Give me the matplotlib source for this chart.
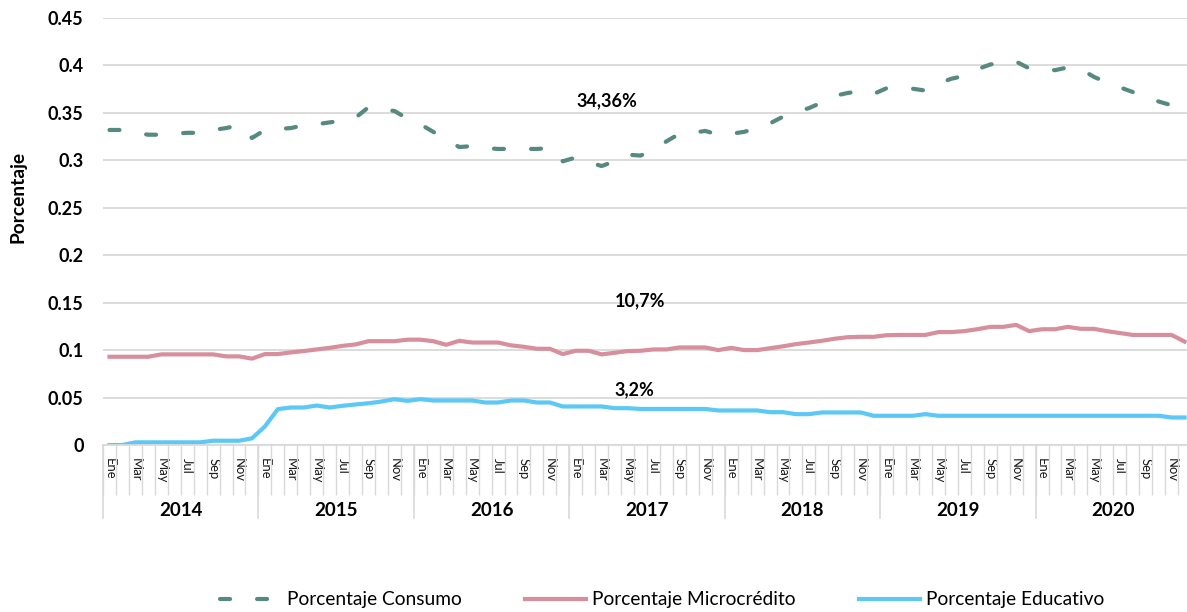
import numpy as np
import matplotlib.pyplot as plt

plt.rcParams['font.family'] = ['Lato', 'DejaVu Sans']

# mensual, Ene 2014 - Dic 2020
years = ["2014", "2015", "2016", "2017", "2018", "2019", "2020"]
months = ["Ene", "Feb", "Mar", "Abr", "May", "Jun", "Jul", "Ago", "Sep", "Oct", "Nov", "Dic"]

consumo = [
    0.332, 0.332, 0.329, 0.327, 0.327, 0.328, 0.329, 0.329, 0.332, 0.334, 0.337, 0.3235,
    0.332, 0.333, 0.334, 0.337, 0.338, 0.340, 0.342, 0.345, 0.356, 0.354, 0.352, 0.344,
    0.338, 0.330, 0.322, 0.314, 0.315, 0.313, 0.312, 0.312, 0.312, 0.312, 0.313, 0.299,
    0.303, 0.298, 0.294, 0.299, 0.306, 0.305, 0.311, 0.320, 0.328, 0.329, 0.331, 0.327,
    0.328, 0.330, 0.334, 0.339, 0.346, 0.351, 0.355, 0.361, 0.368, 0.371, 0.373, 0.370,
    0.376, 0.376, 0.3755, 0.3735, 0.381, 0.386, 0.389, 0.396, 0.401, 0.403, 0.404, 0.397,
    0.396, 0.395, 0.398, 0.396, 0.388, 0.382, 0.377, 0.372, 0.367, 0.362, 0.358, 0.3436,
]
microcredito = [
    0.093, 0.093, 0.093, 0.093, 0.0955, 0.0955, 0.0955, 0.0955, 0.0955, 0.0934, 0.0934, 0.091,
    0.0958, 0.0958, 0.0976, 0.099, 0.1007, 0.1024, 0.1045, 0.106, 0.1094, 0.1094, 0.1094, 0.111,
    0.111, 0.1094, 0.1056, 0.1098, 0.108, 0.108, 0.108, 0.105, 0.1035, 0.1014, 0.1014, 0.0958,
    0.0993, 0.0993, 0.0955, 0.0972, 0.099, 0.0993, 0.1007, 0.1007, 0.1028, 0.1028, 0.1028, 0.100,
    0.1024, 0.100, 0.100, 0.102, 0.104, 0.1063, 0.108, 0.1098, 0.112, 0.1136, 0.114, 0.114,
    0.1157, 0.116, 0.116, 0.116, 0.119, 0.119, 0.120, 0.122, 0.1245, 0.1245, 0.1266, 0.120,
    0.122, 0.122, 0.1245, 0.1224, 0.1224, 0.120, 0.118, 0.116, 0.116, 0.116, 0.116, 0.109,
]
educativo = [
    0.0, 0.0, 0.0028, 0.0028, 0.0028, 0.0028, 0.0028, 0.0028, 0.0045, 0.0045, 0.0045, 0.007,
    0.0196, 0.0378, 0.0395, 0.0395, 0.0416, 0.0395, 0.0413, 0.0427, 0.044, 0.0458, 0.0483, 0.0465,
    0.0483, 0.0469, 0.0469, 0.0469, 0.0469, 0.0448, 0.0448, 0.0469, 0.0469, 0.0448, 0.0448, 0.0406,
    0.0406, 0.0406, 0.0406, 0.0388, 0.0388, 0.038, 0.038, 0.038, 0.038, 0.038, 0.038, 0.0364,
    0.0364, 0.0364, 0.0364, 0.0346, 0.0346, 0.0325, 0.0325, 0.0343, 0.0343, 0.0343, 0.0343, 0.0308,
    0.0308, 0.0308, 0.0308, 0.0325, 0.0308, 0.0308, 0.0308, 0.0308, 0.0308, 0.0308, 0.0308, 0.0308,
    0.0308, 0.0308, 0.0308, 0.0308, 0.0308, 0.0308, 0.0308, 0.0308, 0.0308, 0.0308, 0.029, 0.029,
]

# etiquetas de texto sobre el grafico: (texto, mes, valor)
anotaciones = [("34,36%", 38.4, 0.3625), ("10,7%", 41.0, 0.152), ("3,2%", 40.5, 0.058)]

C_CONS = "#568a80"
C_MICRO = "#d88f9d"
C_EDU = "#5bc8f5"
GRID = "#d9d9d9"

fig = plt.figure(figsize=(11.87, 6.12), dpi=100)
ax = fig.add_axes([103 / 1187, 167 / 612, 1088 / 1187, 427 / 612])

x = np.arange(len(consumo))
ax.plot(x, consumo, color=C_CONS, lw=3, ls=(0, (2.4, 6.5)), dash_capstyle="round",
        label="Porcentaje Consumo")
ax.plot(x, microcredito, color=C_MICRO, lw=3, solid_joinstyle="round", label="Porcentaje Microcrédito")
ax.plot(x, educativo, color=C_EDU, lw=3, solid_joinstyle="round", label="Porcentaje Educativo")

for txt, xm, yv in anotaciones:
    ax.text(xm, yv, txt, ha="center", va="center", fontsize=13, fontweight="bold")

ax.set_xlim(-0.5, len(x) - 0.5)
ax.set_ylim(0, 0.45)
yt = np.round(np.arange(0, 0.451, 0.05), 2)
ax.set_yticks(yt)
ax.set_yticklabels([f"{v:g}" for v in yt], fontsize=13, fontweight="bold")
ax.tick_params(axis="y", length=0, pad=14)
ax.yaxis.grid(True, color=GRID, lw=1.3)
ax.set_axisbelow(True)
for s in ["left", "right", "top"]:
    ax.spines[s].set_visible(False)
ax.spines["bottom"].set_color(GRID)
ax.spines["bottom"].set_linewidth(1.3)

ax.set_ylabel("Porcentaje", fontsize=13.8, fontweight="bold")
ax.yaxis.set_label_coords(-76 / 1088, 0.581)

# meses (uno de cada dos) y divisiones
month_labels = [months[i % 12] for i in range(0, len(x), 2)]
ax.set_xticks(range(0, len(x), 2))
ax.set_xticklabels(month_labels, rotation=-90, fontsize=9.4, va="top", ha="center", color="#1a1a1a")
ax.tick_params(axis="x", which="major", length=0, pad=9)

trans = ax.get_xaxis_transform()
ax.vlines(np.arange(-0.5, len(x), 1), -50 / 427, 0, transform=trans, clip_on=False,
          color=GRID, lw=1, zorder=1)
for k, yr in enumerate(years):
    ax.plot([12 * k - 0.5] * 2, [0, -73 / 427], transform=trans, clip_on=False, color=GRID, lw=1.2,
            zorder=1)
    ax.text(12 * k + 5.5, -65 / 427, yr, transform=trans, ha="center", va="center",
            fontsize=13.5, fontweight="bold")

fig.legend(loc="center", bbox_to_anchor=(662 / 1187, 1 - 600 / 612), ncol=3, frameon=False,
           fontsize=13.8, handlelength=3.2, handletextpad=0.3, columnspacing=3.3)

fig.savefig("out.png", dpi=100)
